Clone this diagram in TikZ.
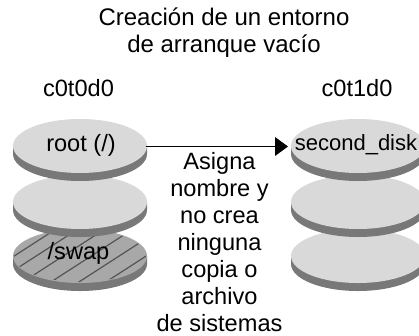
\documentclass[tikz,border=0pt]{standalone}
\usepackage{fontspec}
\setmainfont{Liberation Sans}
\definecolor{disktop}{gray}{0.85}
\definecolor{diskedge}{gray}{0.47}
\definecolor{swaptop}{gray}{0.66}
\definecolor{hatchc}{gray}{0.33}
\tikzset{
  x=1pt,y=-1pt,
  lbl/.style={font=\fontsize{23.6}{27}\selectfont,inner sep=0pt,text=black},
  para/.style={lbl,align=center},
}
\newcommand{\disk}[3]{%
  \fill[diskedge] (#1-67,#2) -- (#1-67,#2+8) arc[start angle=180,end angle=0,x radius=67,y radius=27] -- (#1+67,#2) -- cycle;
  \fill[#3] (#1,#2) ellipse[x radius=67,y radius=27];
}
\begin{document}
\begin{tikzpicture}
\useasboundingbox (0,0) rectangle (419,335);
% left stack
\disk{80}{256}{swaptop}
\begin{scope}
\clip (80,256) ellipse[x radius=66,y radius=26];
\foreach \a in {8,30,57,85,113,140}{
  \draw[hatchc,line width=1.2pt] (\a-46.5,290) -- (\a+62,220);
}
\end{scope}
\disk{80}{202}{disktop}
\disk{80}{146}{disktop}
% right stack
\disk{358}{256}{disktop}
\disk{358}{202}{disktop}
\disk{358}{146}{disktop}
\node[lbl] (r) at (81,145) {root (/)};
\node[lbl] (s) at (78.5,253) {/swap};
\node[lbl,font=\fontsize{22}{26}\selectfont] (d) at (356,145) {second\_disk};
\coordinate (a) at (146,146.5);
\coordinate (b) at (288,146.5);
\draw[line width=0.9pt] (a) -- (275,146.5);
\fill (275,137) -- (b) -- (275,156) -- cycle;
\node[lbl] (l) at (78.5,88) {c0t0d0};
\node[lbl] (m) at (357,88) {c0t1d0};
\node[para,font=\fontsize{24}{27}\selectfont] (t) at (224,32.5) {Creación de un entorno\\de arranque vacío};
\node[para] (c) at (219.5,242.5) {Asigna\\nombre y\\no crea\\ninguna\\copia o\\archivo\\de sistemas};
\end{tikzpicture}
\end{document}
